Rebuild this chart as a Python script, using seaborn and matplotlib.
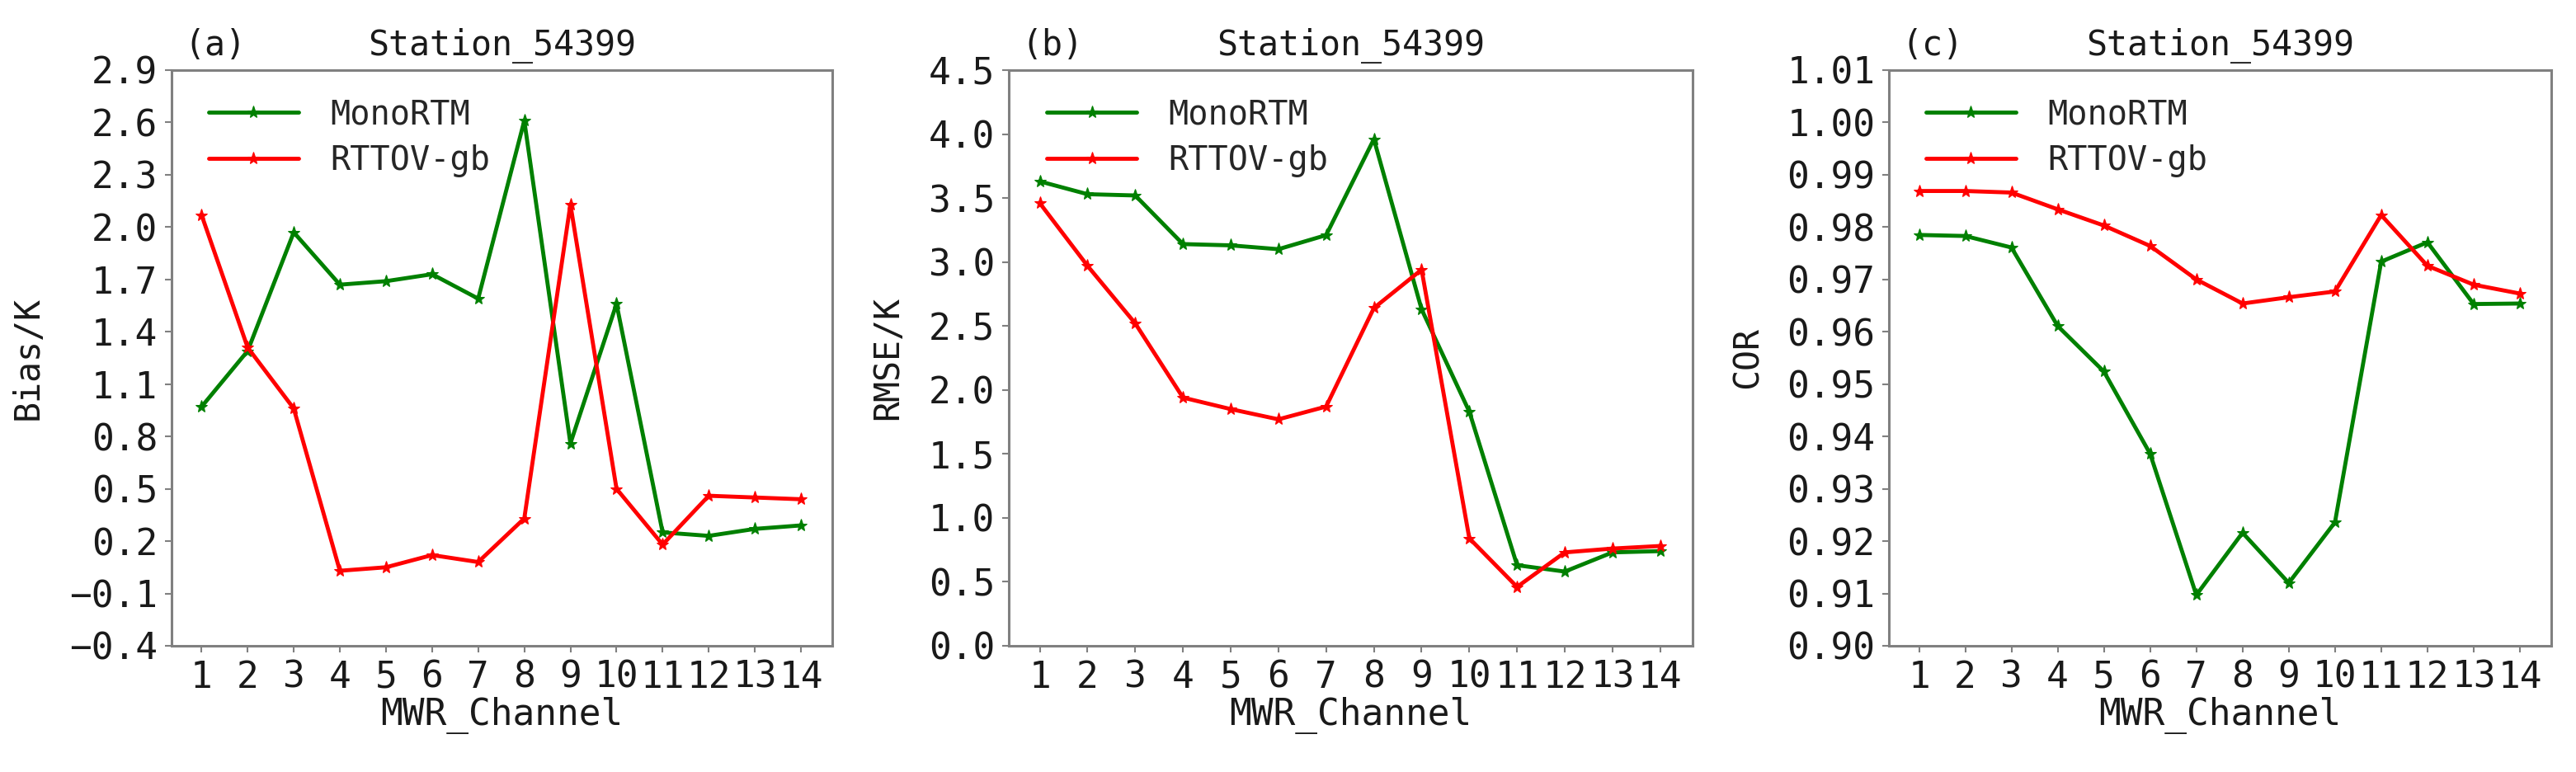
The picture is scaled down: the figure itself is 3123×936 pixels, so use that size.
import numpy as np
import pandas as pd
import seaborn as sns
import matplotlib.pyplot as plt

# data
channels = list(range(1, 15))

bias_mono = [0.97, 1.29, 1.97, 1.67, 1.69, 1.73, 1.59, 2.61, 0.76, 1.56, 0.25, 0.23, 0.27, 0.29]
bias_rttov = [2.07, 1.31, 0.96, 0.03, 0.05, 0.12, 0.08, 0.33, 2.13, 0.50, 0.18, 0.46, 0.45, 0.44]

rmse_mono = [3.63, 3.53, 3.52, 3.14, 3.13, 3.10, 3.21, 3.96, 2.63, 1.83, 0.63, 0.58, 0.73, 0.74]
rmse_rttov = [3.46, 2.97, 2.52, 1.94, 1.85, 1.77, 1.87, 2.64, 2.94, 0.84, 0.46, 0.73, 0.76, 0.78]

cor_mono = [0.9785, 0.9783, 0.9761, 0.9611, 0.9524, 0.9367, 0.9097, 0.9216, 0.9120, 0.9236,
            0.9734, 0.9771, 0.9653, 0.9654]
cor_rttov = [0.9869, 0.9869, 0.9866, 0.9834, 0.9803, 0.9764, 0.9700, 0.9654, 0.9666, 0.9677,
             0.9823, 0.9726, 0.9690, 0.9673]

panels = [
    ("(a)", "Bias/K", bias_mono, bias_rttov, np.arange(-0.4, 2.91, 0.3), "%.1f"),
    ("(b)", "RMSE/K", rmse_mono, rmse_rttov, np.arange(0.0, 4.51, 0.5), "%.1f"),
    ("(c)", "COR", cor_mono, cor_rttov, np.arange(0.90, 1.0101, 0.01), "%.2f"),
]
title = "Station_54399"
series_names = ["MonoRTM", "RTTOV-gb"]
series_colors = ["#008000", "#ff0000"]

sns.set_style("ticks")
plt.rcParams['font.family'] = ['DejaVu Sans Mono', 'DejaVu Sans']

fig = plt.figure(figsize=(31.23, 9.36), dpi=100)
boxes = [[0.0666, 0.1635, 0.2565, 0.7457],
         [0.3916, 0.1635, 0.2655, 0.7457],
         [0.7333, 0.1635, 0.2571, 0.7457]]
ylabel_x = [-0.191, -0.152, -0.187]

for box, (tag, ylab, mono, rttov, yticks, fmt), lx in zip(boxes, panels, ylabel_x):
    ax = fig.add_axes(box)
    for name, vals, col in zip(series_names, [mono, rttov], series_colors):
        sns.lineplot(x=channels, y=vals, ax=ax, color=col, marker="*", markersize=11,
                     markeredgecolor=col, linewidth=3.5, label=name)
    ax.set_xlim(0.35, 14.68)
    ax.set_ylim(yticks[0], yticks[-1])
    ax.set_xticks(channels)
    ax.set_yticks(yticks)
    ax.set_yticklabels([(fmt % v).replace("-", "\u2212") for v in yticks])
    ax.tick_params(labelsize=32, length=6, width=1.5, color='#808080', pad=6,
                   labelcolor='#1a1a1a')
    ax.set_xlabel("MWR_Channel", fontsize=32, labelpad=2, color='#1a1a1a')
    ax.set_ylabel(ylab, fontsize=30, color='#1a1a1a')
    ax.yaxis.set_label_coords(lx, 0.5)
    ax.set_title(title, fontsize=30, y=1.026, pad=0, color='#1a1a1a')
    ax.text(0.019, 1.026, tag, transform=ax.transAxes, fontsize=30, va="baseline",
            color='#1a1a1a')
    for s in ax.spines.values():
        s.set_linewidth(2.2)
        s.set_color('#808080')
    ax.legend(loc="upper left", bbox_to_anchor=(0.056, 0.951), borderaxespad=0, borderpad=0,
              frameon=False, fontsize=29, handlelength=2.7, handletextpad=0.95,
              labelspacing=0.4)

fig.savefig("out.png", dpi=100)
